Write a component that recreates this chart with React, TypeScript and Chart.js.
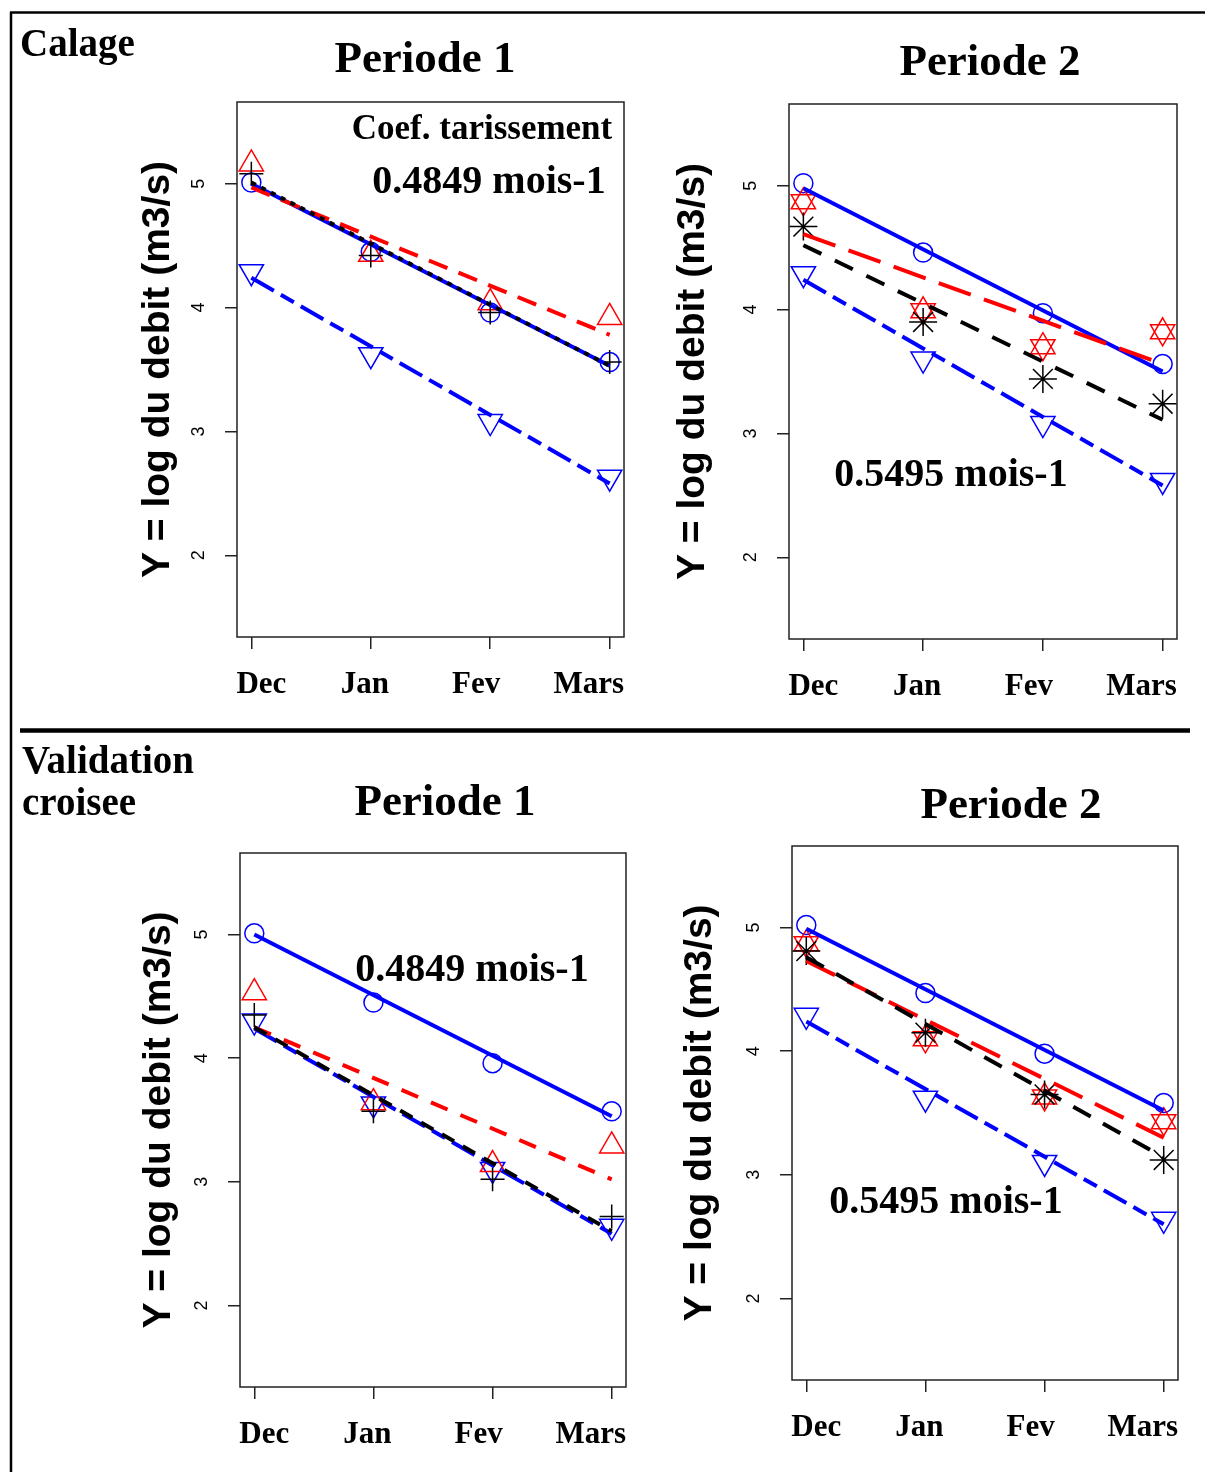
import React, { useEffect, useRef } from "react";
import { Chart, registerables } from "chart.js";

Chart.register(...registerables);

// ---------- data ----------
const MONTHS = ["Dec", "Jan", "Fev", "Mars"];
const MONTH_POS = [1, 2, 3, 4];
const Y_TICKS = [2, 3, 4, 5];
const Y_TITLE = "Y = log du debit (m3/s)";

// Calage - Periode 1
const CAL_P1_OBS = [5.01, 4.45, 3.96, 3.56];
const CAL_P1_OBS_FIT = [5.0, 3.53];
const CAL_P1_BLUE = [4.29, 3.62, 3.08, 2.63];
const CAL_P1_BLUE_FIT = [4.24, 2.58];
const CAL_P1_RED = [5.16, 4.43, 4.04, 3.92];
const CAL_P1_RED_FIT = [4.97, 3.78];
const CAL_P1_BLACK = [5.08, 4.42, 3.96, 3.56];
const CAL_P1_BLACK_FIT = [5.01, 3.53];

// Calage - Periode 2
const CAL_P2_OBS = [5.02, 4.46, 3.97, 3.56];
const CAL_P2_OBS_FIT = [4.98, 3.5];
const CAL_P2_BLUE = [4.29, 3.6, 3.08, 2.62];
const CAL_P2_BLUE_FIT = [4.24, 2.58];
const CAL_P2_RED = [4.87, 3.99, 3.7, 3.82];
const CAL_P2_RED_FIT = [4.61, 3.56];
const CAL_P2_BLACK = [4.67, 3.9, 3.44, 3.24];
const CAL_P2_BLACK_FIT = [4.52, 3.11];

// Validation croisee - Periode 1
const VAL_P1_OBS = [5.01, 4.45, 3.96, 3.57];
const VAL_P1_OBS_FIT = [5.0, 3.53];
const VAL_P1_BLUE = [4.3, 3.63, 3.1, 2.64];
const VAL_P1_BLUE_FIT = [4.24, 2.58];
const VAL_P1_RED = [4.53, 3.64, 3.14, 3.29];
const VAL_P1_RED_FIT = [4.25, 3.02];
const VAL_P1_BLACK = [4.35, 3.57, 3.02, 2.72];
const VAL_P1_BLACK_FIT = [4.25, 2.6];

// Validation croisee - Periode 2
const VAL_P2_OBS = [5.02, 4.47, 3.98, 3.58];
const VAL_P2_OBS_FIT = [4.99, 3.52];
const VAL_P2_BLUE = [4.29, 3.62, 3.1, 2.64];
const VAL_P2_BLUE_FIT = [4.24, 2.6];
const VAL_P2_RED = [4.87, 4.1, 3.63, 3.43];
const VAL_P2_RED_FIT = [4.73, 3.3];
const VAL_P2_BLACK = [4.81, 4.15, 3.65, 3.12];
const VAL_P2_BLACK_FIT = [4.76, 3.14];

const COEF_P1 = "0.4849 mois-1";
const COEF_P2 = "0.5495 mois-1";

// ---------- layout / style ----------
const Y_AXIS_W = 138;
const X_AXIS_H = 93;
const PAD_T = 40;
const PAD_R = 56;
const TICK_LABEL_NUDGE = [10, -6, -14, -21];
const BLUE = "#0000ff";
const RED = "#ff0000";
const BLACK = "#000000";
const SERIF = '"Liberation Serif", "Times New Roman", serif';
const SANS = '"Liberation Sans", Arial, sans-serif';

type Panel = {
  L: number; T: number; R: number; B: number;
  titleOff: number;
  obs: number[]; obsFit: number[];
  blue: number[]; blueFit: number[];
  red: number[]; redFit: number[];
  black: number[]; blackFit: number[];
  david: boolean;
  redDash: number[]; blackDash: number[];
};

const PANELS: Panel[] = [
  { L: 237, T: 102, R: 624, B: 637, titleOff: 79,
    obs: CAL_P1_OBS, obsFit: CAL_P1_OBS_FIT, blue: CAL_P1_BLUE, blueFit: CAL_P1_BLUE_FIT,
    red: CAL_P1_RED, redFit: CAL_P1_RED_FIT, black: CAL_P1_BLACK, blackFit: CAL_P1_BLACK_FIT,
    david: false, redDash: [20, 12], blackDash: [5, 6] },
  { L: 789, T: 104, R: 1177, B: 639, titleOff: 96,
    obs: CAL_P2_OBS, obsFit: CAL_P2_OBS_FIT, blue: CAL_P2_BLUE, blueFit: CAL_P2_BLUE_FIT,
    red: CAL_P2_RED, redFit: CAL_P2_RED_FIT, black: CAL_P2_BLACK, blackFit: CAL_P2_BLACK_FIT,
    david: true, redDash: [34, 14], blackDash: [20, 15] },
  { L: 240, T: 853, R: 626, B: 1387, titleOff: 81,
    obs: VAL_P1_OBS, obsFit: VAL_P1_OBS_FIT, blue: VAL_P1_BLUE, blueFit: VAL_P1_BLUE_FIT,
    red: VAL_P1_RED, redFit: VAL_P1_RED_FIT, black: VAL_P1_BLACK, blackFit: VAL_P1_BLACK_FIT,
    david: false, redDash: [18, 14], blackDash: [14, 10] },
  { L: 792, T: 846, R: 1178, B: 1380, titleOff: 92,
    obs: VAL_P2_OBS, obsFit: VAL_P2_OBS_FIT, blue: VAL_P2_BLUE, blueFit: VAL_P2_BLUE_FIT,
    red: VAL_P2_RED, redFit: VAL_P2_RED_FIT, black: VAL_P2_BLACK, blackFit: VAL_P2_BLACK_FIT,
    david: true, redDash: [32, 14], blackDash: [20, 14] },
];

const pts = (ys: number[]) => ys.map((y, i) => ({ x: MONTH_POS[i], y }));
const ends = (ys: number[]) => [
  { x: MONTH_POS[0], y: ys[0] },
  { x: MONTH_POS[MONTH_POS.length - 1], y: ys[1] },
];

const boxPlugin = {
  id: "rbox",
  beforeDraw(chart: any) {
    // shift the month labels horizontally like the original figure
    const sx = chart.scales.x;
    if (!sx) return;
    const items = sx.getLabelItems(chart.chartArea);
    items.forEach((it: any, i: number) => {
      if (it._nudged) return;
      const tr = it.options.translation;
      it.options.translation = [tr[0] + (TICK_LABEL_NUDGE[i] ?? 0), tr[1]];
      it._nudged = true;
    });
  },
  afterDraw(chart: any) {
    const { ctx, chartArea: a } = chart;
    ctx.save();
    ctx.strokeStyle = "#222";
    ctx.lineWidth = 1.5;
    ctx.strokeRect(a.left, a.top, a.right - a.left, a.bottom - a.top);
    ctx.restore();
  },
};

function fitLine(ys: number[], color: string, dash: number[]) {
  return {
    data: ends(ys),
    showLine: true,
    borderColor: color,
    borderWidth: 4,
    borderDash: dash,
    pointRadius: 0,
    tension: 0,
    fill: false,
  };
}

function markers(ys: number[], color: string, style: string, radius: number, rotation = 0) {
  return {
    data: pts(ys),
    showLine: false,
    pointStyle: style,
    pointRadius: radius,
    pointRotation: rotation,
    pointBorderColor: color,
    borderColor: color,
    pointBackgroundColor: "rgba(0,0,0,0)",
    backgroundColor: "rgba(0,0,0,0)",
    pointBorderWidth: 1.5,
  };
}

function PanelChart({ p }: { p: Panel }) {
  const ref = useRef<HTMLCanvasElement | null>(null);
  const w = p.R - p.L + Y_AXIS_W + PAD_R;
  const h = p.B - p.T + PAD_T + X_AXIS_H;
  const left = p.L - Y_AXIS_W;
  const top = p.T - PAD_T;

  useEffect(() => {
    const canvas = ref.current;
    if (!canvas) return;
    const datasets: any[] = [
      fitLine(p.blackFit, BLACK, p.blackDash),
      fitLine(p.redFit, RED, p.redDash),
      fitLine(p.blueFit, BLUE, [26, 8, 15, 8]),
      fitLine(p.obsFit, BLUE, []),
    ];
    if (p.david) {
      datasets.push(markers(p.black, BLACK, "star", 14));
      datasets.push(markers(p.red, RED, "triangle", 14));
      datasets.push(markers(p.red, RED, "triangle", 14, 180));
    } else {
      datasets.push(markers(p.black, BLACK, "cross", 12));
      datasets.push(markers(p.red, RED, "triangle", 14));
    }
    datasets.push(markers(p.blue, BLUE, "triangle", 14, 180));
    datasets.push(markers(p.obs, BLUE, "circle", 9.5));

    const titlePad = Y_AXIS_W - p.titleOff - (39 * 1.2) / 2;

    const chart = new Chart(canvas, {
      type: "scatter",
      data: { datasets },
      options: {
        animation: false,
        responsive: false,
        devicePixelRatio: 1,
        events: [],
        layout: { padding: { left: 0, top: PAD_T, right: PAD_R, bottom: 0 } },
        plugins: {
          legend: { display: false },
          tooltip: { enabled: false },
          title: { display: false },
        },
        scales: {
          x: {
            type: "linear",
            position: "bottom",
            min: 0.88,
            max: 4.12,
            afterBuildTicks: (s: any) => {
              s.ticks = MONTH_POS.map((v) => ({ value: v }));
            },
            afterFit: (s: any) => {
              s.height = X_AXIS_H;
            },
            border: { display: false },
            grid: {
              display: true,
              drawOnChartArea: false,
              drawTicks: true,
              tickLength: 12,
              tickColor: "#222",
              tickWidth: 1.5,
              color: "#222",
              lineWidth: 1.5,
            },
            ticks: {
              autoSkip: false,
              maxRotation: 0,
              minRotation: 0,
              padding: 17,
              color: "#000",
              font: { family: SERIF, size: 31, weight: "bold" },
              callback: (_v: any, i: number) => MONTHS[i],
            },
          },
          y: {
            type: "linear",
            position: "left",
            min: 1.34,
            max: 5.66,
            afterBuildTicks: (s: any) => {
              s.ticks = Y_TICKS.map((v) => ({ value: v }));
            },
            afterFit: (s: any) => {
              s.width = Y_AXIS_W;
            },
            border: { display: false },
            grid: {
              display: true,
              drawOnChartArea: false,
              drawTicks: true,
              tickLength: 12,
              tickColor: "#222",
              tickWidth: 1.5,
              color: "#222",
              lineWidth: 1.5,
            },
            ticks: {
              minRotation: 90,
              maxRotation: 90,
              crossAlign: "center",
              padding: 21,
              color: "#000",
              font: { family: SANS, size: 18 },
              callback: (v: any) => String(v),
            },
            title: {
              display: true,
              text: Y_TITLE,
              color: "#000",
              font: { family: SANS, size: 39, weight: "bold" },
              padding: { top: titlePad, bottom: 0 },
            },
          },
        },
      } as any,
      plugins: [boxPlugin],
    });
    return () => chart.destroy();
  }, []);

  return (
    <canvas
      ref={ref}
      width={w}
      height={h}
      style={{ position: "absolute", left, top, width: w, height: h }}
    />
  );
}

export default function App() {
  const t = { fontFamily: SERIF, fontWeight: "bold" as const, fill: "#000" };
  return (
    <div
      style={{
        position: "absolute",
        left: 0,
        top: 0,
        width: 1205,
        height: 1472,
        overflow: "hidden",
        background: "#fff",
      }}
    >
      {PANELS.map((p, i) => (
        <PanelChart key={i} p={p} />
      ))}
      <svg
        width={1205}
        height={1472}
        style={{ position: "absolute", left: 0, top: 0, pointerEvents: "none" }}
      >
        <line x1={10} y1={12.5} x2={1205} y2={12.5} stroke="#000" strokeWidth={2.5} />
        <line x1={11} y1={12} x2={11} y2={1472} stroke="#000" strokeWidth={2.5} />
        <line x1={20} y1={730.5} x2={1190} y2={730.5} stroke="#000" strokeWidth={4.5} />

        <text x={20} y={56} fontSize={39} {...t}>Calage</text>
        <text x={22} y={773} fontSize={39} {...t}>Validation</text>
        <text x={22} y={815} fontSize={39} {...t}>croisee</text>

        <text x={425} y={72} fontSize={45} textAnchor="middle" {...t}>Periode 1</text>
        <text x={990} y={75} fontSize={45} textAnchor="middle" {...t}>Periode 2</text>
        <text x={445} y={815} fontSize={45} textAnchor="middle" {...t}>Periode 1</text>
        <text x={1011} y={818} fontSize={45} textAnchor="middle" {...t}>Periode 2</text>

        <text x={482} y={139} fontSize={35} textAnchor="middle" {...t}>Coef. tarissement</text>
        <text x={489} y={193} fontSize={40} textAnchor="middle" {...t}>{COEF_P1}</text>
        <text x={951} y={486} fontSize={40} textAnchor="middle" {...t}>{COEF_P2}</text>
        <text x={472} y={981} fontSize={40} textAnchor="middle" {...t}>{COEF_P1}</text>
        <text x={946} y={1213} fontSize={40} textAnchor="middle" {...t}>{COEF_P2}</text>
      </svg>
    </div>
  );
}
